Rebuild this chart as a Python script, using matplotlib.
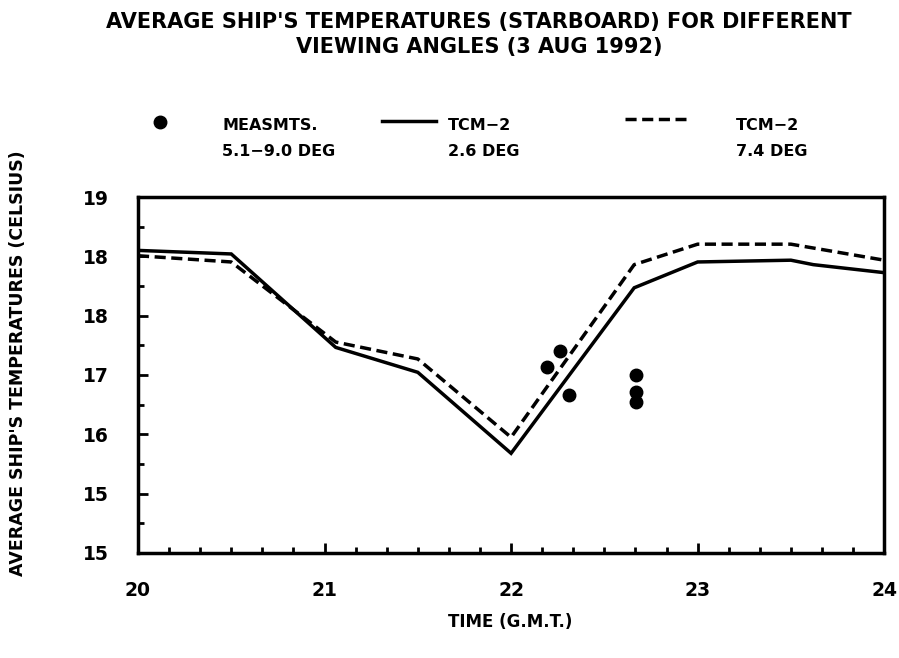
import numpy as np
import matplotlib
matplotlib.use('Agg')
import matplotlib.pyplot as plt
from matplotlib.ticker import MultipleLocator

plt.rcParams['font.family'] = 'DejaVu Sans'
plt.rcParams['font.weight'] = 'bold'

# TCM-2, 2.6 deg (solid)
t_solid = [20.0, 20.5, 21.06, 21.5, 22.0, 22.66, 23.0, 23.5, 23.62, 24.0]
v_solid = [18.40, 18.36, 17.31, 17.03, 16.12, 17.98, 18.27, 18.29, 18.24, 18.15]

# TCM-2, 7.4 deg (dashed)
t_dash = [20.0, 20.5, 21.06, 21.5, 22.0, 22.66, 23.0, 23.5, 24.0]
v_dash = [18.34, 18.27, 17.37, 17.18, 16.30, 18.24, 18.47, 18.47, 18.29]

# measurements 5.1-9.0 deg
t_meas = [22.19, 22.26, 22.31, 22.67, 22.67, 22.67]
v_meas = [17.09, 17.27, 16.78, 17.00, 16.81, 16.70]

ytick_vals = np.linspace(15, 19, 7)
ytick_labels = ['15', '15', '16', '17', '18', '18', '19']
xtick_vals = [20, 21, 22, 23, 24]

fig = plt.figure(figsize=(8.99, 6.58), dpi=100)
ax = fig.add_axes([0.1535, 0.1596, 0.830, 0.541])

dash = (0, (3.2, 1.6))
ax.plot(t_solid, v_solid, color='black', lw=2.5, solid_joinstyle='miter')
ax.plot(t_dash, v_dash, color='black', lw=2.5, linestyle=dash)
ax.plot(t_meas, v_meas, 'o', color='black', markersize=9)

ax.set_xlim(20, 24)
ax.set_ylim(15, 19)
ax.set_xticks(xtick_vals)
ax.set_xticklabels([str(x) for x in xtick_vals], fontsize=13.5, fontweight='bold')
ax.xaxis.set_minor_locator(MultipleLocator(1 / 6))
ax.set_yticks(ytick_vals)
ax.set_yticklabels(ytick_labels, fontsize=13.5, fontweight='bold')
ax.set_yticks(ytick_vals[:-1] + (ytick_vals[1] - ytick_vals[0]) / 2, minor=True)
ax.tick_params(which='major', direction='in', length=7, width=2)
ax.tick_params(which='minor', direction='in', length=4, width=2)
ax.tick_params(axis='x', pad=20)
ax.tick_params(axis='y', pad=21)
for s in ax.spines.values():
    s.set_linewidth(2.5)

# titles
fig.text(0.533, 0.967, "AVERAGE SHIP'S TEMPERATURES (STARBOARD) FOR DIFFERENT",
         ha='center', va='center', fontsize=15, fontweight='bold')
fig.text(0.533, 0.929, "VIEWING ANGLES (3 AUG 1992)",
         ha='center', va='center', fontsize=15, fontweight='bold')
fig.text(0.568, 0.055, 'TIME (G.M.T.)', ha='center', va='center',
         fontsize=12, fontweight='bold')
fig.text(0.02, 0.448, "AVERAGE SHIP'S TEMPERATURES (CELSIUS)", ha='center',
         va='center', rotation=90, fontsize=12.5, fontweight='bold')

# legend drawn in figure coordinates
fig.lines.append(plt.Line2D([160 / 899], [1 - 122 / 658], marker='o', color='black',
                            markersize=9, transform=fig.transFigure))
fig.lines.append(plt.Line2D([382 / 899, 436 / 899], [1 - 121 / 658] * 2, color='black',
                            lw=2.5, transform=fig.transFigure))
fig.lines.append(plt.Line2D([625 / 899, 686 / 899], [1 - 119 / 658] * 2, color='black',
                            lw=2.5, linestyle=dash, transform=fig.transFigure))
leg_text = [(222, 'MEASMTS.', '5.1\u22129.0 DEG'),
            (448, 'TCM\u22122', '2.6 DEG'),
            (736, 'TCM\u22122', '7.4 DEG')]
for px, l1, l2 in leg_text:
    fig.text(px / 899, 1 - 125 / 658, l1, ha='left', va='center', fontsize=11.5, fontweight='bold')
    fig.text(px / 899, 1 - 151 / 658, l2, ha='left', va='center', fontsize=11.5, fontweight='bold')

plt.savefig('out.png', dpi=100)
